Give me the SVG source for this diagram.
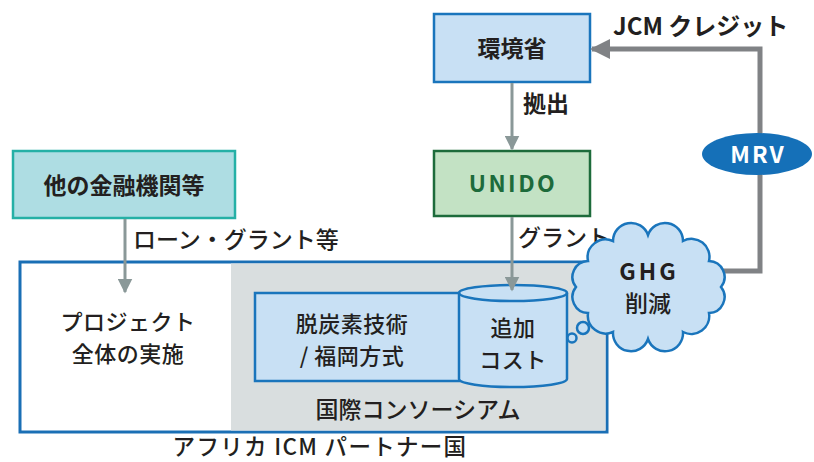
<svg xmlns="http://www.w3.org/2000/svg" width="814" height="462" viewBox="0 0 814 462">
<defs>
<style>
text{font-family:"Noto Sans CJK JP","Noto Sans",sans-serif;font-weight:500;fill:#231f20;font-size:23px}
.c{text-anchor:middle}
.b{font-weight:700}
.two{font-size:22px}
.blue{fill:#c8e0f4;stroke:#1a75bc;stroke-width:2.5}
.conn{stroke:#8a9898;stroke-width:3;fill:none}
</style>
<marker id="ah" viewBox="0 0 10 10" refX="9" refY="5" markerWidth="5" markerHeight="5" markerUnits="strokeWidth" orient="auto"><path d="M0,0 L10,5 L0,10 z" fill="#8a9898"/></marker>
<marker id="ahd" viewBox="0 0 10 10" refX="9" refY="5" markerWidth="4" markerHeight="4" markerUnits="strokeWidth" orient="auto"><path d="M0,0 L10,5 L0,10 z" fill="#808285"/></marker>
</defs>
<rect width="814" height="462" fill="#fff"/>
<g id="partner">
<rect x="20" y="262" width="587" height="170" fill="#fff" stroke="#1a6fb5" stroke-width="3"/>
<text class="c" x="320" y="455" style="font-size:22.5px;letter-spacing:1.3px">アフリカ ICM パートナー国</text>
</g>
<g id="consortium">
<rect x="231" y="263.5" width="374.5" height="167" fill="#d9dedf"/>
<text class="c" x="418" y="418">国際コンソーシアム</text>
</g>
<g id="project">
<text class="c two" x="128" y="330" style="letter-spacing:0.5px">プロジェクト</text>
<text class="c two" x="128" y="362" style="letter-spacing:0.5px">全体の実施</text>
</g>
<g id="tech">
<rect class="blue" x="255" y="293" width="206" height="88"/>
<text class="c two" x="352" y="332" style="letter-spacing:0.5px">脱炭素技術</text>
<text class="c two" x="352" y="364" style="letter-spacing:0.5px">/ 福岡方式</text>
</g>
<g id="cost">
<path class="blue" d="M459,293 L459,379 A54,8 0 0 0 567,379 L567,293 A54,8 0 0 0 459,293 Z"/>
<path d="M459,293 A54,8 0 0 0 567,293" fill="none" stroke="#1a75bc" stroke-width="2.5"/>
<text class="c two" x="513" y="336" style="letter-spacing:0.5px">追加</text>
<text class="c two" x="513" y="368" style="letter-spacing:0.5px">コスト</text>
</g>
<g id="moe">
<rect class="blue" x="434" y="14" width="156" height="68"/>
<text class="c b" x="512" y="57">環境省</text>
</g>
<g id="unido">
<rect x="434" y="151" width="156" height="65" fill="#c3e2c4" stroke="#1d6b3b" stroke-width="2.5"/>
<text class="c b" x="513" y="192" style="fill:#1d6b3b;letter-spacing:2.5px">UNIDO</text>
</g>
<g id="other">
<rect x="13" y="151" width="222" height="67" fill="#aedde3" stroke="#25b0a6" stroke-width="2.5"/>
<text class="c b" x="124" y="194">他の金融機関等</text>
</g>
<g id="connectors">
<line class="conn" x1="512" y1="83" x2="512" y2="149" marker-end="url(#ah)"/>
<line class="conn" x1="512" y1="217" x2="512" y2="290" marker-end="url(#ah)"/>
<line class="conn" x1="125" y1="219" x2="125" y2="292" marker-end="url(#ah)"/>
<path d="M722,271 L760,271 L760,49 L592,49" fill="none" stroke="#808285" stroke-width="5" marker-end="url(#ahd)"/>
<text class="b" x="523" y="112">拠出</text>
<text x="518" y="246">グラント</text>
<text x="133" y="248">ローン・グラント等</text>
<text class="b" x="613" y="35" style="font-size:24px">JCM クレジット</text>
</g>
<g id="mrv">
<ellipse cx="757" cy="154" rx="55" ry="21" fill="#1570b8"/>
<text class="c b" x="758" y="163" style="fill:#fff;letter-spacing:2px">MRV</text>
</g>
<g id="ghg">
<path class="blue" d="M648,235 A18,18 0 0 1 683,241 A18,18 0 0 1 709,261 A16,16 0 0 1 721,287 A16,16 0 0 1 709,313 A18,18 0 0 1 683,332 A18,18 0 0 1 648,339 A18,18 0 0 1 613,332 A18,18 0 0 1 588,313 A16,16 0 0 1 576,287 A16,16 0 0 1 588,261 A18,18 0 0 1 613,241 A18,18 0 0 1 648,235 Z"/>
<circle class="blue" cx="583" cy="328" r="6"/>
<circle class="blue" cx="572" cy="338" r="4.5"/>
<text class="c b" x="649" y="280" style="letter-spacing:3px">GHG</text>
<text class="c" x="648" y="312">削減</text>
</g>
</svg>
